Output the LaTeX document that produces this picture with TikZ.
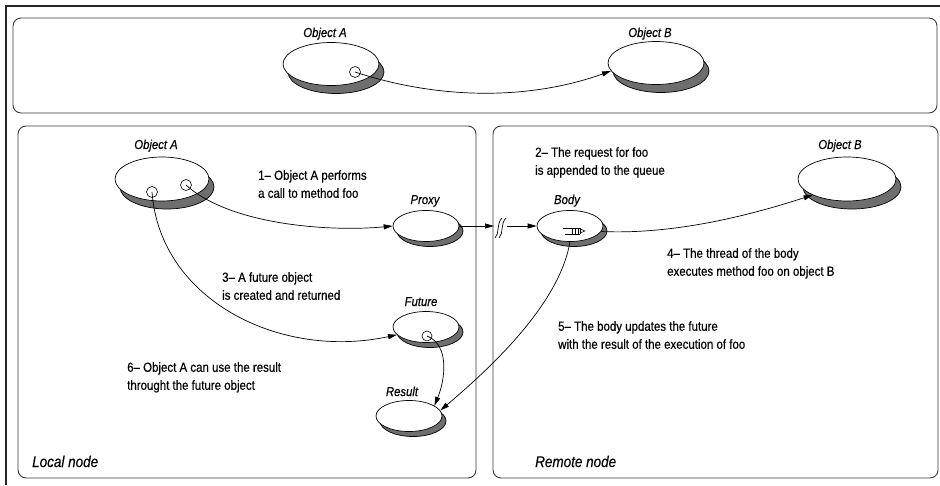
\documentclass[tikz,border=0pt]{standalone}
\usepackage{fontspec}
\setmainfont{Liberation Sans}[FakeStretch=0.87,FakeBold=0.4]
\usetikzlibrary{arrows.meta,shapes.geometric,shadows}
\definecolor{shad}{HTML}{6E6E6E}
\definecolor{panelc}{HTML}{3A3A3A}
\begin{document}
\begin{tikzpicture}[x=1pt,y=-1pt,
  bigobj/.style={ellipse, draw=black, fill=white, line width=0.7pt, inner sep=0pt,
     minimum width=96pt, minimum height=43pt,
     general shadow={shadow xshift=5pt, shadow yshift=-8pt, fill=shad, draw=black, line width=0.7pt}},
  smallobj/.style={ellipse, draw=black, fill=white, line width=0.7pt, inner sep=0pt,
     minimum width=66pt, minimum height=31pt,
     general shadow={shadow xshift=4pt, shadow yshift=-5pt, fill=shad, draw=black, line width=0.7pt}},
  port/.style={circle, draw=black, fill=white, line width=0.6pt, inner sep=0pt, minimum size=11pt},
  lbl/.style={font=\itshape\fontsize{13}{15}\selectfont, anchor=base, inner sep=0pt},
  nodelbl/.style={font=\itshape\fontsize{15.5}{18}\selectfont, anchor=base west, inner sep=0pt},
  txt/.style={font=\fontsize{13.2}{18}\selectfont, align=left, anchor=north west, inner sep=0pt},
  arr/.style={-{Triangle[length=9pt,width=5pt]}, line width=0.7pt, black},
  panel/.style={draw=panelc, line width=0.9pt, rounded corners=8pt}
]
\useasboundingbox (0,0) rectangle (940,485);
% outer frame
\draw[line width=1.3pt, black!85] (6,485) -- (6,6) -- (940,6);
% panels
\draw[panel] (13,18) rectangle (937,113);
\draw[panel] (18,126) rectangle (476,478);
\draw[panel] (493,126) rectangle (938,478);
\node[nodelbl] (localn) at (32,467) {Local node};
\node[nodelbl] (remoten) at (535,467) {Remote node};

% ---- top panel
\node[bigobj] (ta) at (331,64) {};
\node[lbl] (tal) at (325,37) {Object A};
\node[bigobj] (tb) at (656,63) {};
\node[lbl] (tbl) at (650,37) {Object B};
\node[port] (tac) at (355,72) {};
\draw[arr] (tac.center) .. controls (440,100) and (530,100) .. (tb.190);

% ---- local node
\node[bigobj, minimum width=94pt, minimum height=44pt] (la) at (162,179) {};
\node[lbl] (lal) at (156,149) {Object A};
\node[port] (lac1) at (152,192) {};
\node[port] (lac2) at (186,185) {};

\node[smallobj] (proxy) at (426,226) {};
\node[lbl] (proxyl) at (425,204) {Proxy};
\node[smallobj] (future) at (426,327) {};
\node[lbl] (futurel) at (421,306) {Future};
\node[port, minimum size=10pt] (fc) at (427,336) {};
\node[smallobj] (result) at (409,416) {};
\node[lbl] (resultl) at (402,396) {Result};

% ---- remote node
\node[smallobj] (body) at (570,226) {};
\node[lbl] (bodyl) at (567,204) {Body};
\node[bigobj, minimum width=98pt, minimum height=44pt] (lb) at (847,179) {};
\node[lbl] (lbl) at (840,149) {Object B};

% queue icon inside body
\draw[line width=0.6pt] (563,228) -- (580,228) (565,234) -- (580,234)
  (572,228) -- (572,234) (575,228) -- (575,234) (578,228) -- (578,234) (580,228) -- (580,234);
\draw[line width=0.5pt] (580,229) -- (585,231) -- (580,233);

% texts
\node[txt] (t1) at (258,170) {1– Object A performs\\a call to method foo};
\node[txt] (t2) at (535,147) {2– The request for foo\\is appended to the queue};
\node[txt] (t3) at (222,272) {3– A future object\\is created and returned};
\node[txt] (t4) at (667,248) {4– The thread of the body\\executes method foo on object B};
\node[txt] (t5) at (558,321) {5– The body updates the future\\with the result of the execution of foo};
\node[txt] (t6) at (127,362) {6– Object A can use the result\\throught the future object};

% connectors
\draw[arr] (lac2.center) .. controls (230,225) and (330,232) .. (proxy.west);
\draw[arr] (lac1.center) .. controls (160,300) and (280,360) .. (future.195);
\coordinate (brk1) at (494,226);
\coordinate (brk2) at (507,226);
\draw[arr] (proxy.east) -- (brk1);
\draw[line width=0.7pt] (495,238) .. controls (500,233) and (496,224) .. (502,218);
\draw[line width=0.7pt] (499,238) .. controls (504,233) and (500,224) .. (506,218);
\draw[arr] (brk2) -- (body.west);
\draw[arr] (body.-10) .. controls (680,235) and (760,212) .. (lb.205);
\draw[arr] (body.south) .. controls (560,300) and (500,360) .. (result.10);
\draw[arr] (fc.center) .. controls (450,345) and (445,380) .. (result.22);
\end{tikzpicture}
\end{document}
